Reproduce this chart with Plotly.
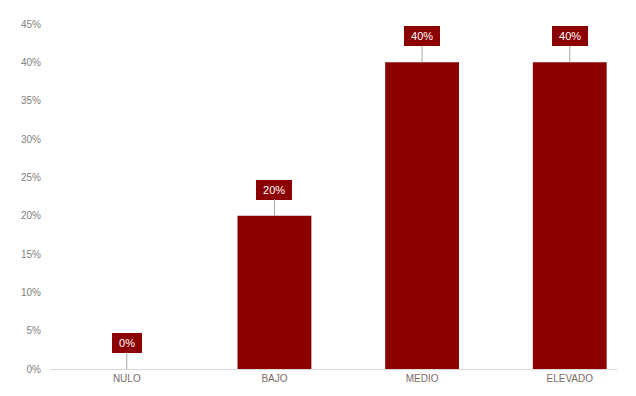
import plotly.graph_objects as go

categories = ["NULO", "BAJO", "MEDIO", "ELEVADO"]
values = [0.0, 0.20, 0.40, 0.40]
labels = ["0%", "20%", "40%", "40%"]
y_ticks = [0, 0.05, 0.10, 0.15, 0.20, 0.25, 0.30, 0.35, 0.40, 0.45]

bar_color = "#8B0000"

fig = go.Figure()
fig.add_trace(go.Bar(
    x=list(range(len(categories))),
    y=values,
    width=0.5,
    marker=dict(color=bar_color, line=dict(width=0)),
    hoverinfo="skip",
))

for i, (v, t) in enumerate(zip(values, labels)):
    fig.add_annotation(
        x=i, y=v, xref="x", yref="y",
        text="&nbsp;" + t + "&nbsp;", showarrow=True, arrowhead=0, arrowwidth=1,
        arrowcolor="#a6a6a6", ax=0, ay=-26,
        bgcolor=bar_color, bordercolor=bar_color, borderpad=3,
        font=dict(family="Liberation Sans, Arial, sans-serif", size=11, color="white"),
    )

fig.update_layout(
    width=636, height=396,
    margin=dict(l=42, r=27, t=10, b=35),
    plot_bgcolor="white", paper_bgcolor="white",
    showlegend=False,
    font=dict(family="Liberation Sans, Arial, sans-serif"),
)
fig.update_xaxes(
    range=[-0.52, 3.32],
    tickmode="array",
    tickvals=list(range(len(categories))),
    ticktext=categories,
    tickfont=dict(size=10, color="#7a6a6a"),
    showline=True, linecolor="#d9d9d9", linewidth=1,
    showgrid=False, zeroline=False, ticks="",
)
fig.update_yaxes(
    range=[0, 0.45],
    tickmode="array",
    tickvals=y_ticks,
    tickformat=".0%",
    tickfont=dict(size=10, color="#808080"),
    showgrid=False, zeroline=False, showline=False, ticks="",
    ticklabelstandoff=8,
)

fig.write_html("out.html")
